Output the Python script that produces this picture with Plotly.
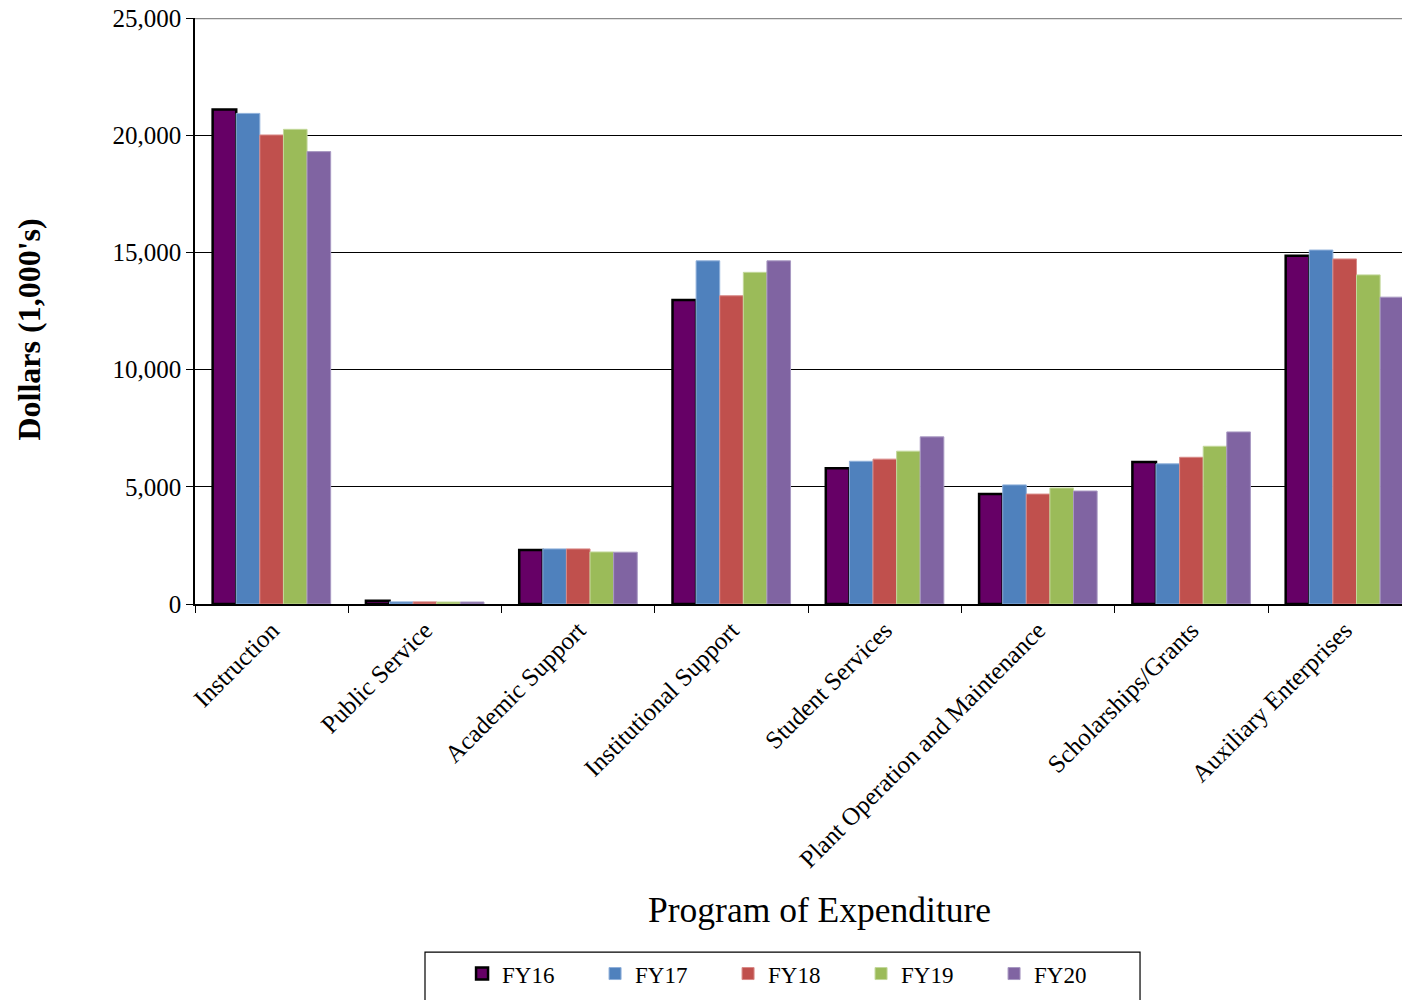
import plotly.graph_objects as go

categories = ["Instruction", "Public Service", "Academic Support", "Institutional Support",
              "Student Services", "Plant Operation and Maintenance", "Scholarships/Grants",
              "Auxiliary Enterprises"]
series_names = ["FY16", "FY17", "FY18", "FY19", "FY20"]
fy16 = [21100, 140, 2300, 12970, 5790, 4690, 6060, 14860]
fy17 = [20930, 90, 2350, 14640, 6090, 5080, 5980, 15100]
fy18 = [20010, 90, 2350, 13150, 6180, 4690, 6260, 14720]
fy19 = [20250, 85, 2220, 14150, 6520, 4950, 6730, 14040]
fy20 = [19300, 85, 2210, 14640, 7130, 4820, 7340, 13090]
colors = ["#660066", "#4F81BD", "#C0504D", "#9BBB59", "#8064A2"]
edge_colors = ["#000000", "#8FB0DA", "#D98A88", "#C3D89B", "#A898C2"]
edge_widths = [2.5, 1, 1, 1, 1]
y_ticks = [0, 5000, 10000, 15000, 20000, 25000]

FONT = "Liberation Serif, Times New Roman, serif"

fig = go.Figure()
for name, vals, c, ec, ew in zip(series_names, [fy16, fy17, fy18, fy19, fy20], colors, edge_colors, edge_widths):
    fig.add_trace(go.Bar(x=categories, y=vals, name=name,
                         marker=dict(color=c, line=dict(color=ec, width=ew))))

fig.update_layout(
    width=1410, height=1000,
    margin=dict(l=187, r=8, t=10, b=404, autoexpand=False),
    paper_bgcolor="white", plot_bgcolor="white",
    barmode="group", bargap=0.23, bargroupgap=0,
    font=dict(family=FONT, color="black", size=25),
    showlegend=True,
    legend=dict(orientation="h", x=0.2198, y=-0.594, xanchor="left", yanchor="top",
                bgcolor="rgba(0,0,0,0)", borderwidth=0, font=dict(size=23, family=FONT),
                entrywidth=88, entrywidthmode="pixels", itemwidth=30),
    xaxis=dict(range=[-0.5, 7.426], tickangle=-45, tickson="boundaries",
               ticks="outside", ticklen=7, tickcolor="black",
               showline=True, linecolor="black", linewidth=1.5,
               tickfont=dict(size=25, family=FONT), showgrid=False,
               ticklabeloverflow="allow", automargin=False),
    yaxis=dict(range=[0, 25000], tickvals=y_ticks, tickformat=",",
               ticks="outside", ticklen=7, tickcolor="black",
               showline=True, linecolor="black", linewidth=1.5,
               showgrid=True, gridcolor="black", gridwidth=1,
               tickfont=dict(size=25, family=FONT), zeroline=False,
               ticklabeloverflow="allow", automargin=False),
    annotations=[
        dict(text="Program of Expenditure", xref="paper", yref="paper",
             x=0.514, y=-0.522, xanchor="center", yanchor="middle",
             showarrow=False, font=dict(size=35.5, family=FONT)),
        dict(text="<b>Dollars (1,000's)</b>", xref="paper", yref="paper",
             x=-0.137, y=0.4676, xanchor="center", yanchor="middle", textangle=-90,
             showarrow=False, font=dict(size=32, family=FONT)),
    ],
    shapes=[
        dict(type="line", xref="paper", yref="y", x0=0, x1=1, y0=25000, y1=25000,
             line=dict(color="#8c8c8c", width=2.5)),
        dict(type="rect", xref="paper", yref="paper", x0=0.1893, x1=0.7778,
             y0=-0.5939, y1=-0.69, line=dict(color="black", width=1.2),
             fillcolor="rgba(0,0,0,0)", layer="below"),
    ],
)

fig.write_html("out.html")
